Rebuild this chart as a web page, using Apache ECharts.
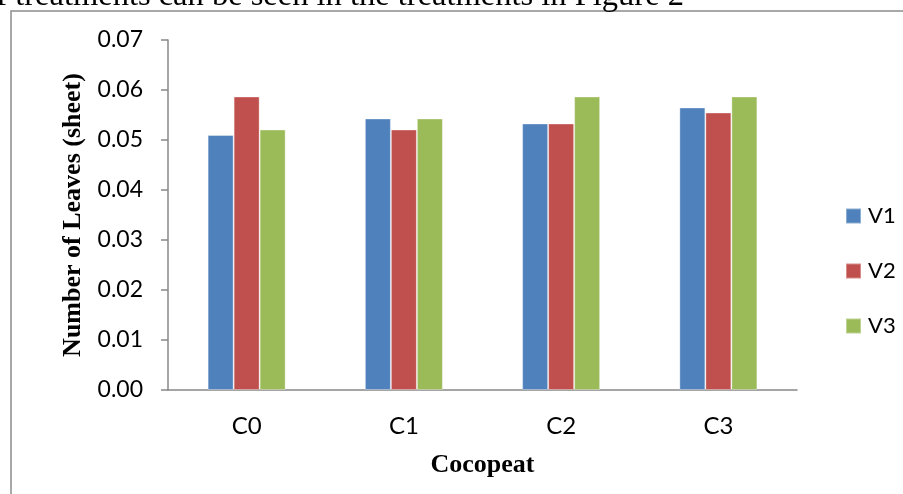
<!DOCTYPE html>
<html>
<head>
<meta charset="utf-8">
<script src="https://cdn.jsdelivr.net/npm/echarts@6/dist/echarts.min.js"></script>
<style>
html,body{margin:0;padding:0;background:#fff;}
#chart{width:903px;height:494px;}
</style>
</head>
<body>
<div id="chart"></div>
<script>
const categories = ['C0', 'C1', 'C2', 'C3'];
const seriesNames = ['V1', 'V2', 'V3'];
const v1 = [0.0510, 0.0543, 0.0533, 0.0565];
const v2 = [0.0587, 0.0521, 0.0533, 0.0555];
const v3 = [0.0521, 0.0543, 0.0587, 0.0587];
const colors = ['#4F81BD', '#C0504D', '#9BBB59'];
const yTicks = ['0.00','0.01','0.02','0.03','0.04','0.05','0.06','0.07'];
const captionText = 'of treatments can be seen in the treatments in Figure 2';

const chart = echarts.init(document.getElementById('chart'), null, {renderer: 'canvas'});
const seriesData = [v1, v2, v3];
chart.setOption({
  animation: false,
  backgroundColor: '#fff',
  grid: {left: 168, right: 106, top: 40, bottom: 104, containLabel: false},
  legend: {
    orient: 'vertical', left: 840, top: 200,
    itemWidth: 15, itemHeight: 15, itemGap: 33,
    icon: 'rect',
    data: seriesNames,
    textStyle: {fontFamily: 'Lato', fontSize: 22, color: '#000', lineHeight: 15, padding: [0,0,0,2]}
  },
  xAxis: {
    type: 'category', data: categories,
    axisLine: {lineStyle: {color: '#888', width: 1.5}},
    axisTick: {show: false},
    axisLabel: {fontFamily: 'Lato', fontSize: 24, color: '#000', margin: 24},
    name: 'Cocopeat', nameLocation: 'middle', nameGap: 62,
    nameTextStyle: {fontFamily: 'Liberation Serif', fontWeight: 'bold', fontSize: 26, color: '#000'}
  },
  yAxis: {
    type: 'value', min: 0, max: 0.07, interval: 0.01,
    axisLine: {show: true, lineStyle: {color: '#888', width: 1.5}},
    axisTick: {show: true, length: 7, lineStyle: {color: '#888', width: 1.5}},
    splitLine: {show: false},
    axisLabel: {fontFamily: 'Lato', fontSize: 23, color: '#000', margin: 25,
      formatter: function (v) { return yTicks[Math.round(v * 100)]; }},
    name: 'Number of Leaves (sheet)', nameLocation: 'middle', nameGap: 80,
    nameTextStyle: {fontFamily: 'Liberation Serif', fontWeight: 'bold', fontSize: 26, color: '#000'}
  },
  graphic: [
    {type: 'polyline', shape: {points: [[11, 494], [11, 11], [903, 11]]},
     style: {stroke: '#8c8c8c', lineWidth: 1.5, fill: null}, silent: true},
    {type: 'text', left: -20, top: -20,
     style: {text: captionText, font: '32.5px "Liberation Serif"', fill: '#000'}, silent: true}
  ],
  series: seriesNames.map((n, i) => ({
    name: n, type: 'bar', data: seriesData[i],
    barWidth: 26, barGap: '0%',
    itemStyle: {color: colors[i], borderColor: 'rgba(255,255,255,0.35)', borderWidth: 1}
  }))
});
</script>
</body>
</html>
